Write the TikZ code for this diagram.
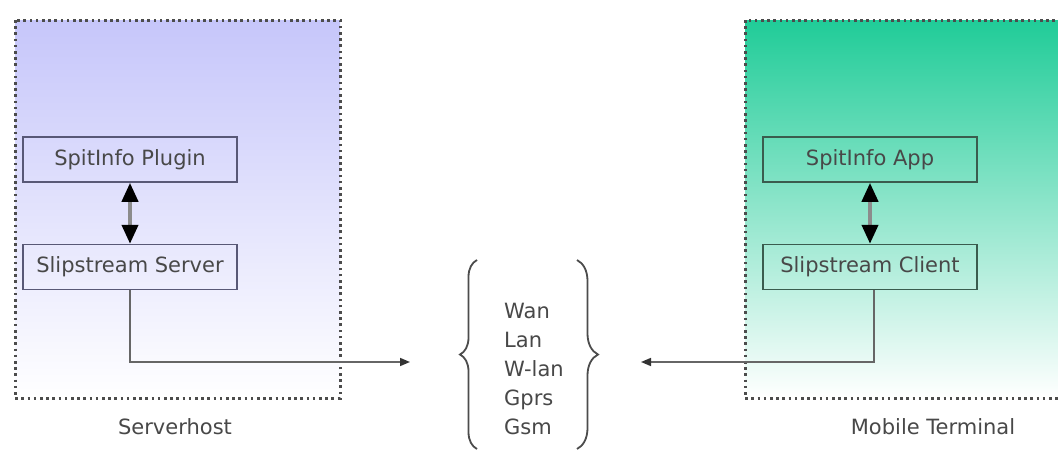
\documentclass[tikz,border=0pt]{standalone}
\usepackage{fontspec}
\setmainfont{DejaVu Sans}
\usepackage{xcolor}
\usetikzlibrary{arrows.meta,positioning,decorations.pathreplacing}
\definecolor{hostblue}{RGB}{198,198,250}
\definecolor{termgreen}{RGB}{32,204,152}
\definecolor{txtgray}{RGB}{72,72,72}
\definecolor{hostedge}{RGB}{88,88,118}
\definecolor{termedge}{RGB}{58,92,78}

\begin{document}
\begin{tikzpicture}[
  x=1pt, y=-1pt,
  font=\fontsize{21}{29}\selectfont,
  text=txtgray,
  node distance=61pt,
  box/.style={draw,line width=1.6pt,minimum width=214pt,minimum height=45pt,inner sep=0pt},
  panel/.style={draw=black!70,line width=3pt,dash pattern=on 2.6pt off 3.6pt},
  pair/.style={{Triangle[length=19pt,width=16pt,color=black]}-{Triangle[length=19pt,width=16pt,color=black]},line width=4pt,draw=black!45},
  link/.style={-{Triangle[length=10pt,width=8pt,color=black!80]},line width=1.6pt,draw=black!60},
  bracket/.style={decorate,decoration={brace,amplitude=#1},line width=1.8pt,draw=black!70}
]
\useasboundingbox (0,0) rectangle (1058,450);
\fill[white] (0,0) rectangle (1058,450);

\shade[top color=hostblue,bottom color=white] (15,20) rectangle (340,398);
\draw[panel] (15,20) rectangle (340,398);
\begin{scope}
  \clip (0,0) rectangle (1058,450);
  \shade[top color=termgreen,middle color=termgreen!45!white,bottom color=white] (745,20) rectangle (1080,398);
  \draw[panel] (745,20) rectangle (1080,398);
\end{scope}

\node[box,draw=hostedge] (plugin) at (130,159.5) {SpitInfo Plugin};
\node[box,draw=hostedge,below=of plugin] (server) {Slipstream Server};
\node[box,draw=termedge] (app) at (870,159.5) {SpitInfo App};
\node[box,draw=termedge,below=of app] (client) {Slipstream Client};

\node (hostlbl) at (175,427) {Serverhost};
\node (termlbl) at (933,427) {Mobile Terminal};

\node[anchor=west,align=left,inner sep=0pt] (nets) at (504,369) {Wan\\Lan\\W-lan\\Gprs\\Gsm};
\draw[bracket=17pt] (477,449) -- (477,260);
\draw[bracket=21pt] (577,260) -- (577,449);

\coordinate (netin) at (410,362);
\coordinate (netout) at (641,362);

\draw[pair] (plugin) -- (server);
\draw[pair] (app) -- (client);
\draw[link] (server.south) |- (netin);
\draw[link] ([xshift=4pt]client.south) |- (netout);
\end{tikzpicture}
\end{document}
